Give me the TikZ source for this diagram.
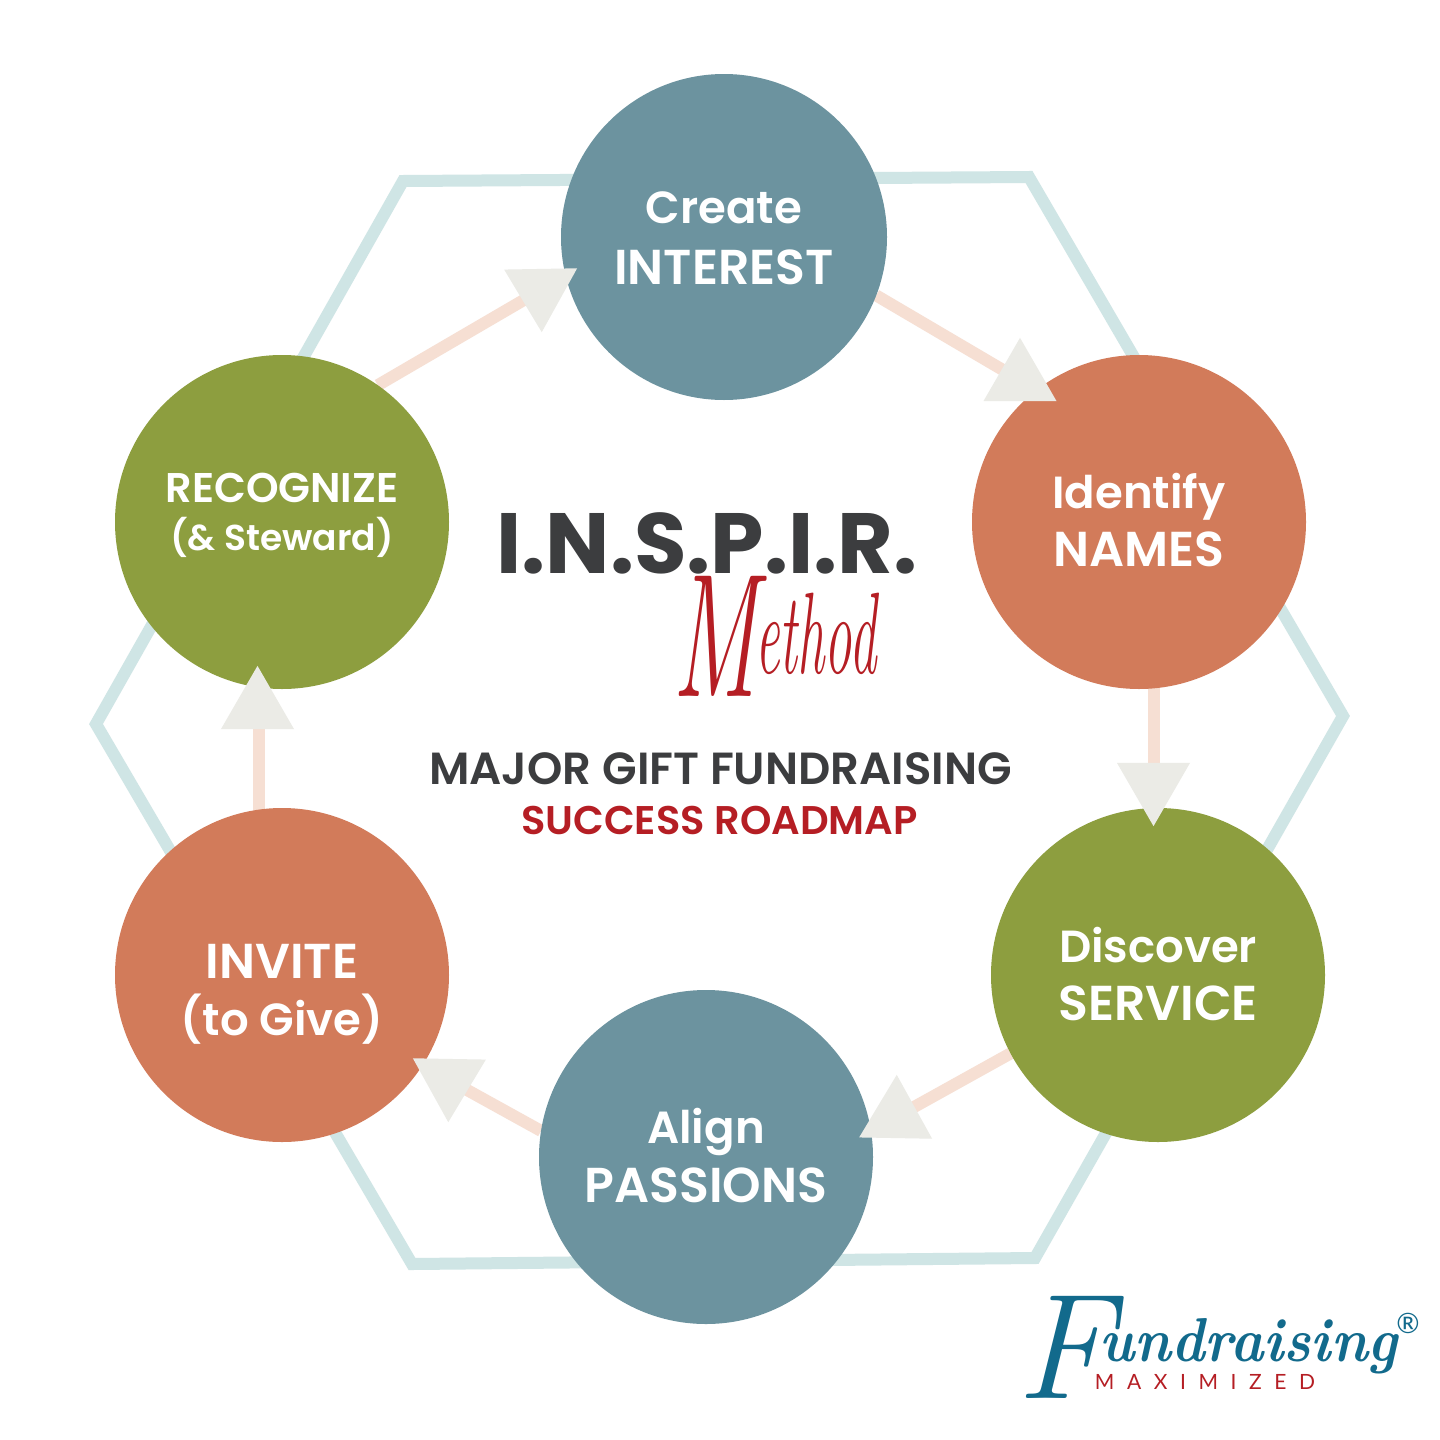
\documentclass[tikz,border=0pt]{standalone}
\usepackage{fontspec}
\usepackage{graphicx}
\usetikzlibrary{shapes.geometric,backgrounds}
\setmainfont{Poppins}[BoldFont=Poppins SemiBold]
\newfontfamily\popbold{Poppins Bold}
\newfontfamily\latofont{Lato}
\newfontfamily\lmit{Latin Modern Roman}
\definecolor{hexcol}{HTML}{CFE5E5}
\definecolor{linkcol}{HTML}{F6DFD3}
\definecolor{tricol}{HTML}{EBEBE6}
\definecolor{bluecol}{HTML}{6C939F}
\definecolor{orangecol}{HTML}{D27B5A}
\definecolor{greencol}{HTML}{8D9E3F}
\definecolor{darkcol}{HTML}{3C3D3F}
\definecolor{redcol}{HTML}{B51E24}
\definecolor{tealcol}{HTML}{126A8C}
\tikzset{
  disc/.style={circle,minimum size=334pt,inner sep=0pt,outer sep=0pt},
  tri/.style={regular polygon,regular polygon sides=3,minimum size=84.3pt,inner sep=0pt,outer sep=0pt,fill=tricol},
  link/.style={draw=linkcol,line width=12pt},
  ring/.style={draw=hexcol,line width=12pt,line join=miter},
  lbl/.style={text=white,anchor=base,inner sep=0pt,font=\fontsize{49}{49}\selectfont\bfseries},
  lbllow/.style={lbl,font=\fontsize{45}{45}\selectfont\bfseries},
}
\begin{document}
\begin{tikzpicture}[x=1pt,y=-1pt]
\useasboundingbox (0,0) rectangle (1440,1440);
% circles
\node[disc,minimum size=326pt,fill=bluecol] (create) at (724,237) {};
\node[disc,fill=orangecol] (identify) at (1139,522) {};
\node[disc,fill=greencol] (discover) at (1158,975) {};
\node[disc,fill=bluecol] (align) at (706,1157) {};
\node[disc,fill=orangecol] (invite) at (282,975) {};
\node[disc,fill=greencol] (recognize) at (282,522) {};
% triangles
\node[tri] (t1) at (1020,380) {};
\node[tri,rotate=180] (t2) at (1153.5,784) {};
\node[tri,rotate=-1] (t3) at (896,1117) {};
\node[tri,rotate=179] (t4) at (449,1080) {};
\node[tri] (t5) at (257.5,708) {};
\node[tri,rotate=181] (t6) at (541,290) {};
% hexagon and links behind
\begin{pgfonlayer}{background}
\fill[white] (0,0) rectangle (1440,1440);
\coordinate (h1) at (403,181);
\coordinate (h2) at (1029,177);
\coordinate (h3) at (1343,716);
\coordinate (h4) at (1035,1258);
\coordinate (h5) at (412,1264);
\coordinate (h6) at (96,724);
\draw[ring] (h1) -- (h2) -- (h3) -- (h4) -- (h5) -- (h6) -- cycle;
\draw[link] (create.-21.5) -- (t1.center);
\draw[link] (identify.-85.7) -- (identify.-85.7 |- t2.center);
\draw[link] (discover.-152) -- (t3.center);
\draw[link] (align.171.8) -- (t4.center);
\draw[link] (invite.98) -- (invite.98 |- t5.center);
\draw[link] (recognize.55) -- (t6.center);
\end{pgfonlayer}
% circle labels
\node[lbllow] (l1a) at (724,223) {Create};
\node[lbl] (l1b) at (724,284) {INTEREST};
\node[lbllow] (l2a) at (1139,508) {Identify};
\node[lbl] (l2b) at (1139,566) {NAMES};
\node[lbllow] (l3a) at (1158,962) {Discover};
\node[lbl] (l3b) at (1158,1020) {SERVICE};
\node[lbllow] (l4a) at (706,1143) {Align};
\node[lbl] (l4b) at (706,1202) {PASSIONS};
\node[lbl] (l5a) at (282,978) {INVITE};
\node[lbllow] (l5b) at (282,1035) {(to Give)};
\node[lbl,font=\fontsize{41.5}{41.5}\selectfont\bfseries] (l6a) at (282,502) {RECOGNIZE};
\node[lbl,font=\fontsize{36}{36}\selectfont\bfseries] (l6b) at (282,550) {(\& Steward)};
% centre text
\node[anchor=base,inner sep=0pt,text=darkcol,font=\popbold\fontsize{85.5}{85.5}\selectfont] (title) at (707,573) {I.N.S.P.I.R.};
\node[anchor=base west,inner sep=0pt,text=redcol] (method) at (672,696) {\lmit\itshape\scalebox{.55}[1]{\fontsize{176}{176}\selectfont M}\kern-2pt\scalebox{.47}[1]{\fontsize{116}{116}\selectfont\raisebox{23pt}{ethod}}};
\node[anchor=base,inner sep=0pt,text=darkcol,font=\fontsize{45}{45}\selectfont\bfseries] (major) at (720.5,784) {MAJOR GIFT FUNDRAISING};
\node[anchor=base,inner sep=0pt,text=redcol,font=\fontsize{40}{40}\selectfont\bfseries] (success) at (719.5,834) {SUCCESS ROADMAP};
% logo
\node[anchor=base west,inner sep=0pt,text=tealcol] (logo) at (1016,1398) {\lmit\itshape{\fontsize{150}{150}\selectfont F}\kern-12pt\raisebox{37pt}{\scalebox{.91}[1]{\bfseries\fontsize{62}{62}\selectfont undraising}}};
\node[anchor=base,inner sep=0pt,text=redcol] (maxim) at (1205,1389) {\latofont\addfontfeatures{LetterSpace=60}\fontsize{21}{21}\selectfont MAXIMIZED};
\node[anchor=center,inner sep=0pt,text=tealcol,font=\latofont\fontsize{28}{28}\selectfont] (reg) at (1408,1323) {®};
\end{tikzpicture}
\end{document}
